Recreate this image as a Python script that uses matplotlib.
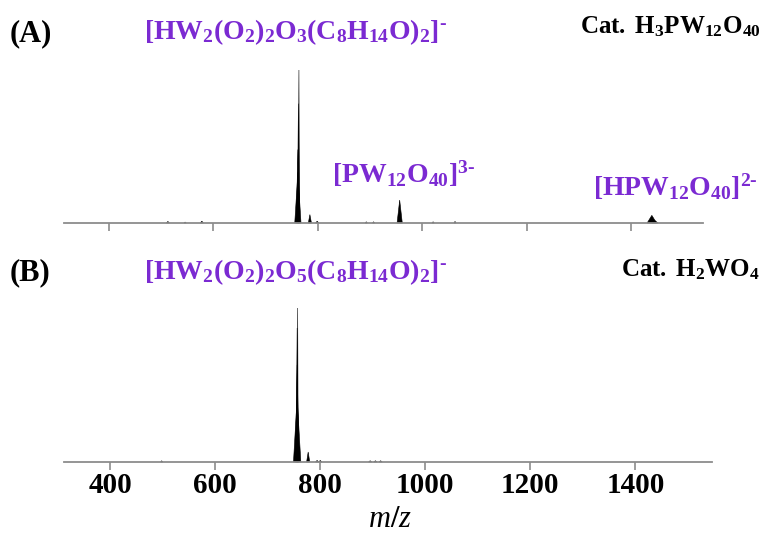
import matplotlib
matplotlib.use("Agg")
import matplotlib.pyplot as plt

plt.rcParams['font.family'] = ['Liberation Serif', 'DejaVu Serif']
plt.rcParams['mathtext.fontset'] = 'custom'
plt.rcParams['mathtext.rm'] = 'Liberation Serif:bold'
plt.rcParams['mathtext.bf'] = 'Liberation Serif:bold'
plt.rcParams['mathtext.it'] = 'Liberation Serif:italic'

PURPLE = '#7B2AD2'

# Peaks of spectrum (A): centre m/z, relative height, half-width (m/z)
mz_a = [513, 546, 578, 764, 763, 762, 762, 785, 799, 893, 907, 957, 1021, 1063, 1440, 1446]
int_a = [0.010, 0.006, 0.012, 1.00, 0.78, 0.48, 0.33, 0.055, 0.012, 0.008, 0.008, 0.15, 0.008, 0.010, 0.050, 0.015]
hw_a = [3, 2, 3, 1.0, 2.0, 3.0, 6.0, 3, 3, 2, 2, 5, 2, 2, 9, 6]

# Peaks of spectrum (B)
mz_b = [498, 757, 756, 756, 756, 777, 794, 800, 895, 905, 915]
int_b = [0.008, 1.00, 0.87, 0.63, 0.42, 0.065, 0.010, 0.010, 0.008, 0.008, 0.008]
hw_b = [2, 1.0, 2.0, 3.5, 7.0, 3, 3, 3, 3, 3, 3]

ticks = [400, 600, 800, 1000, 1200, 1400]

fig = plt.figure(figsize=(7.62, 5.33), dpi=100)
W, H = 762.0, 533.0


def make_axes(left, right, base, top, xlim):
    ax = fig.add_axes([left / W, 1 - base / H, (right - left) / W, (base - top) / H])
    ax.set_xlim(*xlim)
    ax.set_ylim(0, 1.0)
    for s in ['left', 'right', 'top']:
        ax.spines[s].set_visible(False)
    ax.spines['bottom'].set_color('#8c8c8c')
    ax.spines['bottom'].set_linewidth(1.3)
    ax.set_yticks([])
    ax.set_xticks(ticks)
    ax.tick_params(axis='x', direction='out', length=5.5, width=1.2, color='#8c8c8c',
                   labelsize=21, pad=2)
    ax.patch.set_visible(False)
    return ax


def draw_peaks(ax, mz, inten, hw):
    for c, h, w in zip(mz, inten, hw):
        ax.fill([c - w, c, c + w], [0, h, 0], color='black', lw=0.4, ec='black',
                clip_on=False)


ax_a = make_axes(64, 703, 223, 70, (314, 1538))
draw_peaks(ax_a, mz_a, int_a, hw_a)
ax_a.set_xticklabels([])

ax_b = make_axes(64, 712, 462, 308, (312, 1546))
draw_peaks(ax_b, mz_b, int_b, hw_b)
ax_b.set_xticklabels([str(t) for t in ticks])
for lab in ax_b.get_xticklabels():
    lab.set_fontweight('bold')


def ftext(x, y, s, **kw):
    fig.text(x / W, 1 - y / H, s, **kw)


ftext(10, 41, '(A)', fontsize=22, fontweight='bold', ha='left', va='baseline')
ftext(296, 39, r'$\mathbf{[HW_2(O_2)_2O_3(C_8H_{14}O)_2]^{\text{-}}}$', fontsize=20,
      color=PURPLE, ha='center', va='baseline')
ftext(670, 33, r'$\mathbf{Cat.\ H_3PW_{12}O_{40}}$', fontsize=18, ha='center', va='baseline')
ftext(404, 183, r'$\mathbf{[PW_{12}O_{40}]^{3\text{-}}}$', fontsize=20, color=PURPLE,
      ha='center', va='baseline')
ftext(675, 196, r'$\mathbf{[HPW_{12}O_{40}]^{2\text{-}}}$', fontsize=20, color=PURPLE,
      ha='center', va='baseline')

ftext(10, 280, '(B)', fontsize=22, fontweight='bold', ha='left', va='baseline')
ftext(296, 279, r'$\mathbf{[HW_2(O_2)_2O_5(C_8H_{14}O)_2]^{\text{-}}}$', fontsize=20,
      color=PURPLE, ha='center', va='baseline')
ftext(690, 276, r'$\mathbf{Cat.\ H_2WO_4}$', fontsize=18, ha='center', va='baseline')

ftext(390, 527, r'$m/z$', fontsize=22, ha='center', va='baseline')

fig.savefig('out.png', dpi=100)
